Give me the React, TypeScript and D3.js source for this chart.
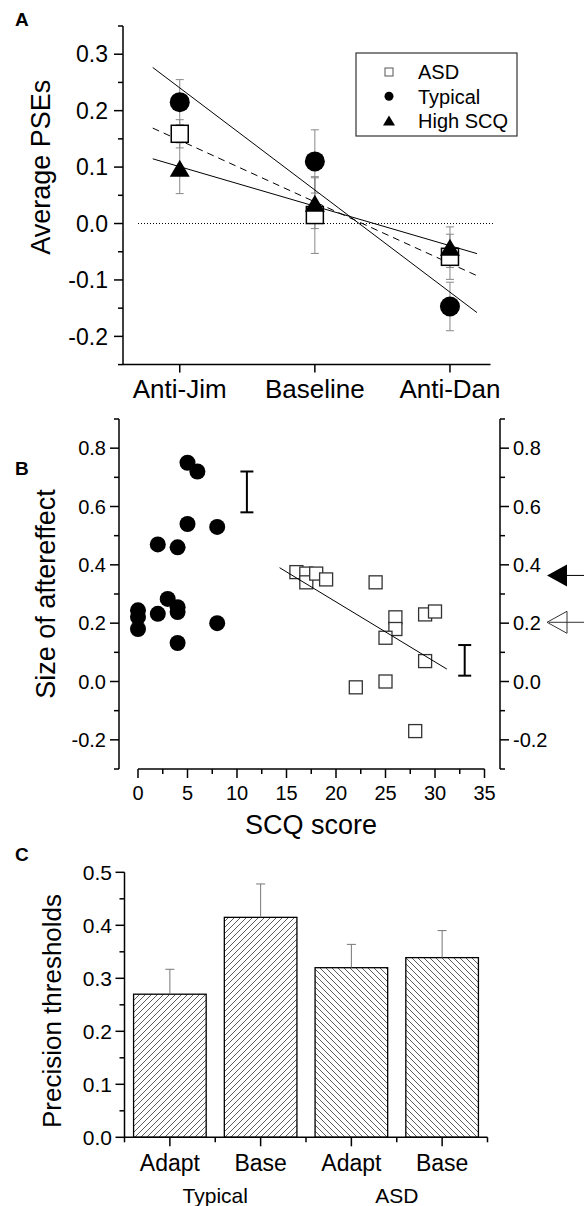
import React from "react";
import * as d3 from "d3";

// ---------- Panel A data ----------
const CONDITIONS = ["Anti-Jim", "Baseline", "Anti-Dan"];
const ASD_PSE = [0.159, 0.015, -0.059];
const ASD_PSE_ERR = [0.025, 0.068, 0.04];
const TYPICAL_PSE = [0.215, 0.11, -0.147];
const TYPICAL_PSE_ERR = [0.04, 0.056, 0.043];
const HIGHSCQ_PSE = [0.098, 0.036, -0.042];
const HIGHSCQ_PSE_ERR = [0.045, 0.045, 0.036];
const A_YTICKS = [-0.2, -0.1, 0, 0.1, 0.2, 0.3];
const A_LEGEND = ["ASD", "Typical", "High SCQ"];

// ---------- Panel B data ----------
const TYPICAL_SCQ = [0, 0, 0, 2, 2, 3, 4, 4, 4, 4, 5, 5, 6, 8, 8];
const TYPICAL_AE = [0.244, 0.221, 0.18, 0.47, 0.232, 0.283, 0.46, 0.255, 0.238, 0.132, 0.54, 0.75, 0.72, 0.53, 0.2];
const ASD_SCQ = [16, 17, 17, 18, 19, 24, 26, 26, 25, 25, 22, 29, 30, 29, 28];
const ASD_AE = [0.375, 0.37, 0.34, 0.37, 0.35, 0.34, 0.22, 0.18, 0.15, 0.0, -0.02, 0.23, 0.24, 0.07, -0.17];
const B_YTICKS = [-0.2, 0, 0.2, 0.4, 0.6, 0.8];
const B_XTICKS = [0, 5, 10, 15, 20, 25, 30, 35];
const SAMPLE_ERR_SCQ = [11, 33];
const SAMPLE_ERR_LO = [0.58, 0.02];
const SAMPLE_ERR_HI = [0.72, 0.125];
const ASD_FIT_RANGE = [14.3, 31.2];

// ---------- Panel C data ----------
const C_KEYS = ["TA", "TB", "AA", "AB"];
const C_BARS = ["Adapt", "Base", "Adapt", "Base"];
const C_GROUPS = ["Typical", "ASD"];
const C_VALUES = [0.27, 0.415, 0.32, 0.339];
const C_ERRORS = [0.047, 0.063, 0.044, 0.051];
const C_YTICKS = [0, 0.1, 0.2, 0.3, 0.4, 0.5];

const FONT = "'Liberation Sans', Arial, Helvetica, sans-serif";
const f1raw = d3.format(".1f");
const f1 = (t: number) => f1raw(t).replace("\u2212", "-");

function fit(xs: number[], ys: number[]) {
  const mx = d3.mean(xs)!;
  const my = d3.mean(ys)!;
  const sxy = d3.sum(xs, (x, i) => (x - mx) * (ys[i] - my));
  const sxx = d3.sum(xs, (x) => (x - mx) * (x - mx));
  const b = sxy / sxx;
  return (x: number) => my + b * (x - mx);
}

function tri(cx: number, cy: number, w: number, h: number) {
  return `M${cx},${cy - h / 2}L${cx + w / 2},${cy + h / 2}L${cx - w / 2},${cy + h / 2}Z`;
}

function PanelA() {
  const y = d3.scaleLinear().domain([-0.25, 0.35]).range([364.6, 26]);
  const x = d3.scaleLinear().domain([-0.42, 2.3]).range([123, 490.5]);
  const idx = CONDITIONS.map((_, i) => i);
  const minor = d3.range(-0.25, 0.36, 0.1);
  const series = [
    { v: ASD_PSE, e: ASD_PSE_ERR, dash: "7,5" },
    { v: TYPICAL_PSE, e: TYPICAL_PSE_ERR, dash: null },
    { v: HIGHSCQ_PSE, e: HIGHSCQ_PSE_ERR, dash: null },
  ];
  return (
    <g>
      <text x={15} y={26} fontSize={19} fontWeight="bold" fontFamily={FONT}>A</text>
      {/* y axis */}
      <line x1={123} x2={123} y1={y(0.35)} y2={y(-0.25)} stroke="#000" strokeWidth={1.5} />
      {A_YTICKS.map((t) => (
        <g key={t}>
          <line x1={114} x2={123} y1={y(t)} y2={y(t)} stroke="#000" strokeWidth={1.5} />
          <text x={108} y={y(t)} dy="0.36em" textAnchor="end" fontSize={23} fontFamily={FONT}>{f1(t)}</text>
        </g>
      ))}
      {minor.map((t) => (
        <line key={t} x1={118} x2={123} y1={y(t)} y2={y(t)} stroke="#000" strokeWidth={1.5} />
      ))}
      <text transform={`translate(50,${y(0.05) - 28}) rotate(-90)`} textAnchor="middle" fontSize={27} fontFamily={FONT}>Average PSEs</text>
      {/* x axis */}
      <line x1={123} x2={490.5} y1={y(-0.25)} y2={y(-0.25)} stroke="#000" strokeWidth={1.5} />
      {CONDITIONS.map((c, i) => (
        <g key={c}>
          <line x1={x(i)} x2={x(i)} y1={y(-0.25)} y2={y(-0.25) + 8} stroke="#000" strokeWidth={1.5} />
          <text x={x(i)} y={398} textAnchor="middle" fontSize={26} fontFamily={FONT}>{c}</text>
        </g>
      ))}
      {/* zero line */}
      <line x1={138} x2={493} y1={y(0)} y2={y(0)} stroke="#000" strokeWidth={1} strokeDasharray="1,2" />
      {/* error bars */}
      {series.map((s, si) =>
        idx.map((i) => (
          <g key={`${si}-${i}`} stroke="#888" strokeWidth={1}>
            <line x1={x(i)} x2={x(i)} y1={y(s.v[i] + s.e[i])} y2={y(s.v[i] - s.e[i])} />
            <line x1={x(i) - 4} x2={x(i) + 4} y1={y(s.v[i] + s.e[i])} y2={y(s.v[i] + s.e[i])} />
            <line x1={x(i) - 4} x2={x(i) + 4} y1={y(s.v[i] - s.e[i])} y2={y(s.v[i] - s.e[i])} />
          </g>
        ))
      )}
      {/* regression lines */}
      {series.map((s, si) => {
        const f = fit(idx, s.v);
        return (
          <line key={si} x1={x(-0.2)} x2={x(2.2)} y1={y(f(-0.2))} y2={y(f(2.2))} stroke="#000" strokeWidth={1} strokeDasharray={s.dash || undefined} />
        );
      })}
      {/* markers */}
      {idx.map((i) => (
        <rect key={`s${i}`} x={x(i) - 8.5} y={y(ASD_PSE[i]) - 8.5} width={17} height={17} fill="#fff" stroke="#000" strokeWidth={1.5} />
      ))}
      {idx.map((i) => (
        <circle key={`c${i}`} cx={x(i)} cy={y(TYPICAL_PSE[i])} r={10} fill="#000" />
      ))}
      {idx.map((i) => (
        <path key={`t${i}`} d={tri(x(i), y(HIGHSCQ_PSE[i]), 20, 17)} fill="#000" />
      ))}
      {/* legend */}
      <rect x={356} y={53} width={161} height={83} fill="#fff" stroke="#333" strokeWidth={1.2} />
      {A_LEGEND.map((name, i) => {
        const cy = 72 + i * 24.3;
        return (
          <g key={name}>
            {i === 0 && <rect x={385} y={cy - 4} width={8} height={8} fill="#fff" stroke="#555" strokeWidth={1} />}
            {i === 1 && <circle cx={389} cy={cy} r={4.5} fill="#000" />}
            {i === 2 && <path d={tri(389, cy, 12, 10)} fill="#000" />}
            <text x={418} y={cy} dy="0.36em" fontSize={20} fontFamily={FONT}>{name}</text>
          </g>
        );
      })}
    </g>
  );
}

function PanelB() {
  const y = d3.scaleLinear().domain([-0.3, 0.9]).range([769, 419]);
  const x = d3.scaleLinear().domain([0, 35]).range([138, 484.5]);
  const LX = 119;
  const RX = 500;
  const minorY = d3.range(-0.3, 0.91, 0.2);
  const minorX = d3.range(2.5, 35, 5);
  const f = fit(ASD_SCQ, ASD_AE);
  const typMean = d3.mean(TYPICAL_AE)!;
  const asdMean = d3.mean(ASD_AE)!;
  return (
    <g>
      <text x={15} y={475} fontSize={19} fontWeight="bold" fontFamily={FONT}>B</text>
      {/* left axis */}
      <line x1={LX} x2={LX} y1={y(0.9)} y2={y(-0.3)} stroke="#000" strokeWidth={1.5} />
      {B_YTICKS.map((t) => (
        <g key={t}>
          <line x1={LX - 9} x2={LX} y1={y(t)} y2={y(t)} stroke="#000" strokeWidth={1.5} />
          <text x={106} y={y(t)} dy="0.36em" textAnchor="end" fontSize={20} fontFamily={FONT}>{f1(t)}</text>
        </g>
      ))}
      {minorY.map((t) => (
        <line key={t} x1={LX - 5} x2={LX} y1={y(t)} y2={y(t)} stroke="#000" strokeWidth={1.5} />
      ))}
      {/* right axis */}
      <line x1={RX} x2={RX} y1={y(0.9)} y2={y(-0.3)} stroke="#000" strokeWidth={1.5} />
      {B_YTICKS.map((t) => (
        <g key={t}>
          <line x1={RX} x2={RX + 9} y1={y(t)} y2={y(t)} stroke="#000" strokeWidth={1.5} />
          <text x={513} y={y(t)} dy="0.36em" textAnchor="start" fontSize={20} fontFamily={FONT}>{f1(t)}</text>
        </g>
      ))}
      {minorY.map((t) => (
        <line key={t} x1={RX} x2={RX + 5} y1={y(t)} y2={y(t)} stroke="#000" strokeWidth={1.5} />
      ))}
      <text transform={`translate(55,${y(0.3)}) rotate(-90)`} textAnchor="middle" fontSize={27} fontFamily={FONT}>Size of aftereffect</text>
      {/* bottom axis */}
      <line x1={x(0)} x2={x(35)} y1={769} y2={769} stroke="#000" strokeWidth={1.5} />
      {B_XTICKS.map((t) => (
        <g key={t}>
          <line x1={x(t)} x2={x(t)} y1={769} y2={778} stroke="#000" strokeWidth={1.5} />
          <text x={x(t)} y={800} textAnchor="middle" fontSize={20} fontFamily={FONT}>{t}</text>
        </g>
      ))}
      {minorX.map((t) => (
        <line key={t} x1={x(t)} x2={x(t)} y1={769} y2={774} stroke="#000" strokeWidth={1.5} />
      ))}
      <text x={311} y={834} textAnchor="middle" fontSize={27} fontFamily={FONT}>SCQ score</text>
      {/* sample error bars */}
      {SAMPLE_ERR_SCQ.map((s, i) => (
        <g key={s} stroke="#000" strokeWidth={2}>
          <line x1={x(s)} x2={x(s)} y1={y(SAMPLE_ERR_HI[i])} y2={y(SAMPLE_ERR_LO[i])} />
          <line x1={x(s) - 6.5} x2={x(s) + 6.5} y1={y(SAMPLE_ERR_HI[i])} y2={y(SAMPLE_ERR_HI[i])} />
          <line x1={x(s) - 6.5} x2={x(s) + 6.5} y1={y(SAMPLE_ERR_LO[i])} y2={y(SAMPLE_ERR_LO[i])} />
        </g>
      ))}
      {/* typical points */}
      {TYPICAL_SCQ.map((s, i) => (
        <circle key={`t${i}`} cx={x(s)} cy={y(TYPICAL_AE[i])} r={8} fill="#000" />
      ))}
      {/* ASD squares */}
      {ASD_SCQ.map((s, i) => (
        <rect key={`a${i}`} x={x(s) - 6.5} y={y(ASD_AE[i]) - 6.5} width={13} height={13} fill="#fff" stroke="#333" strokeWidth={1.3} />
      ))}
      {/* ASD fit */}
      <line x1={x(ASD_FIT_RANGE[0])} x2={x(ASD_FIT_RANGE[1])} y1={y(f(ASD_FIT_RANGE[0]))} y2={y(f(ASD_FIT_RANGE[1]))} stroke="#000" strokeWidth={1} />
      {/* mean arrows */}
      <path d={`M547,${y(typMean)}L567,${y(typMean) - 11}L567,${y(typMean) + 11}Z`} fill="#000" />
      <line x1={567} x2={584} y1={y(typMean)} y2={y(typMean)} stroke="#000" strokeWidth={1} />
      <path d={`M547,${y(asdMean)}L567,${y(asdMean) - 11}L567,${y(asdMean) + 11}Z`} fill="#fff" stroke="#333" strokeWidth={1} />
      <line x1={549} x2={584} y1={y(asdMean)} y2={y(asdMean)} stroke="#333" strokeWidth={1} />
    </g>
  );
}

function PanelC() {
  const y = d3.scaleLinear().domain([0, 0.5]).range([1137.3, 872.3]);
  const x = d3.scaleBand<string>().domain(C_KEYS).range([124.5, 487.5]).paddingInner(0.2).paddingOuter(0.1);
  const AX = 124.5;
  const step = x.step();
  const minorY = d3.range(0.05, 0.5, 0.1);
  const centers = C_KEYS.map((k) => x(k)! + x.bandwidth() / 2);
  const bounds = d3.range(0, 5).map((i) => 124.5 + i * step);
  return (
    <g>
      <defs>
        <pattern id="hatchF" patternUnits="userSpaceOnUse" width={6} height={6}>
          <path d="M-1,1L1,-1M0,6L6,0M5,7L7,5" stroke="#333" strokeWidth={0.8} />
        </pattern>
        <pattern id="hatchB" patternUnits="userSpaceOnUse" width={6} height={6}>
          <path d="M-1,5L1,7M0,0L6,6M5,-1L7,1" stroke="#333" strokeWidth={0.8} />
        </pattern>
      </defs>
      <text x={15} y={861} fontSize={19} fontWeight="bold" fontFamily={FONT}>C</text>
      {/* bars */}
      {C_KEYS.map((k, i) => (
        <rect key={k} x={x(k)} y={y(C_VALUES[i])} width={x.bandwidth()} height={y(0) - y(C_VALUES[i])} fill={`url(#${i < 2 ? "hatchF" : "hatchB"})`} stroke="#000" strokeWidth={1.3} />
      ))}
      {/* error bars */}
      {C_KEYS.map((k, i) => (
        <g key={k} stroke="#777" strokeWidth={1}>
          <line x1={centers[i]} x2={centers[i]} y1={y(C_VALUES[i])} y2={y(C_VALUES[i] + C_ERRORS[i])} />
          <line x1={centers[i] - 4.5} x2={centers[i] + 4.5} y1={y(C_VALUES[i] + C_ERRORS[i])} y2={y(C_VALUES[i] + C_ERRORS[i])} />
        </g>
      ))}
      {/* y axis */}
      <line x1={AX} x2={AX} y1={y(0.5)} y2={y(0)} stroke="#000" strokeWidth={1.5} />
      {C_YTICKS.map((t) => (
        <g key={t}>
          <line x1={AX - 9} x2={AX} y1={y(t)} y2={y(t)} stroke="#000" strokeWidth={1.5} />
          <text x={112} y={y(t)} dy="0.36em" textAnchor="end" fontSize={21} fontFamily={FONT}>{f1(t)}</text>
        </g>
      ))}
      {minorY.map((t) => (
        <line key={t} x1={AX - 5} x2={AX} y1={y(t)} y2={y(t)} stroke="#000" strokeWidth={1.5} />
      ))}
      <text transform={`translate(61,1011) rotate(-90)`} textAnchor="middle" fontSize={26} fontFamily={FONT}>Precision thresholds</text>
      {/* x axis */}
      <line x1={124.5} x2={487.5} y1={y(0)} y2={y(0)} stroke="#000" strokeWidth={1.5} />
      {centers.map((c, i) => (
        <g key={i}>
          <line x1={c} x2={c} y1={y(0)} y2={y(0) + 9} stroke="#000" strokeWidth={1.5} />
          <text x={c} y={1171} textAnchor="middle" fontSize={23} fontFamily={FONT}>{C_BARS[i]}</text>
        </g>
      ))}
      {bounds.map((b, i) => (
        <line key={i} x1={b} x2={b} y1={y(0)} y2={y(0) + 5} stroke="#000" strokeWidth={1.5} />
      ))}
      {C_GROUPS.map((g, gi) => (
        <text key={g} x={(centers[gi * 2] + centers[gi * 2 + 1]) / 2} y={1203} textAnchor="middle" fontSize={21} fontFamily={FONT}>{g}</text>
      ))}
    </g>
  );
}

export default function App() {
  return (
    <svg width={584} height={1206} viewBox="0 0 584 1206" style={{ position: "absolute", left: 0, top: 0, display: "block", background: "#fff" }}>
      <rect x={0} y={0} width={584} height={1206} fill="#fff" />
      <PanelA />
      <PanelB />
      <PanelC />
    </svg>
  );
}
